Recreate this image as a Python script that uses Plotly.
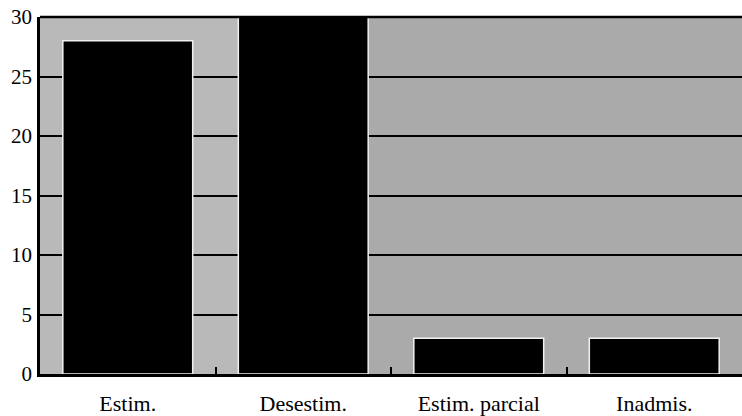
import plotly.graph_objects as go

categories = ["Estim.", "Desestim.", "Estim. parcial", "Inadmis."]
values = [28, 30, 3, 3]
y_ticks = [0, 5, 10, 15, 20, 25, 30]

fig = go.Figure(go.Bar(
    x=categories, y=values,
    marker=dict(color="black", line=dict(color="#f0f0f0", width=1.5)),
    width=0.74,
    hoverinfo="skip",
))

# slightly lighter textured zone behind the first two bars
fig.add_shape(type="rect", xref="x", yref="paper", x0=-0.5, x1=1.37, y0=0, y1=1,
              fillcolor="#b9b9b9", line=dict(width=0), layer="below")

fig.update_layout(
    width=742, height=416,
    margin=dict(l=40, r=0, t=17, b=42),
    paper_bgcolor="white",
    plot_bgcolor="#aaaaaa",
    font=dict(family="Liberation Serif", size=22, color="black"),
    showlegend=False,
)
fig.update_yaxes(
    range=[0, 30], tickvals=y_ticks, showgrid=True, gridcolor="black", gridwidth=2,
    showline=True, linecolor="black", linewidth=2.5, ticks="",
    tickfont=dict(family="Liberation Serif", size=21), zeroline=False, automargin=False,
    ticklabelstandoff=1, ticklabeloverflow="allow",
)
fig.update_xaxes(
    range=[-0.5, 3.5], showgrid=False, showline=True, linecolor="black", linewidth=2.5,
    tickson="boundaries", ticks="inside", ticklen=7, tickwidth=2, tickcolor="black",
    tickfont=dict(family="Liberation Serif", size=22), automargin=False,
    ticklabelstandoff=8,
)
fig.add_shape(type="line", xref="paper", yref="paper", x0=0, x1=1, y0=1, y1=1,
              line=dict(color="black", width=2.5))
fig.write_html("out.html", config={"displayModeBar": False},
               post_script="document.body.style.margin='0';")
